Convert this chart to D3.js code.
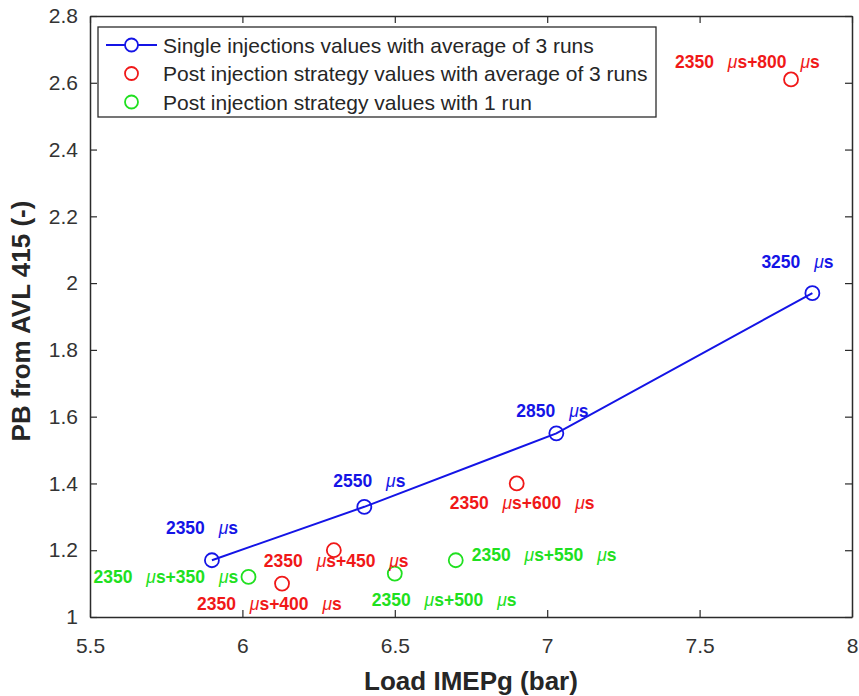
<!DOCTYPE html>
<html>
<head>
<meta charset="utf-8">
<script src="https://cdn.jsdelivr.net/npm/d3@7/dist/d3.min.js"></script>
<style>
  html, body { margin: 0; padding: 0; background: #fff; }
  svg { display: block; }
</style>
</head>
<body>
<svg id="chart" width="859" height="696"></svg>
<script>
// ---- data ----
const xTicks = [5.5, 6, 6.5, 7, 7.5, 8];
const yTicks = [1, 1.2, 1.4, 1.6, 1.8, 2, 2.2, 2.4, 2.6, 2.8];

// single injections, average of 3 runs
const singleX = [5.9, 6.4, 7.03, 7.87];
const singleY = [1.17, 1.33, 1.55, 1.97];
const singleLabels = ["2350 μs", "2550 μs", "2850 μs", "3250 μs"];

// post injection strategy, average of 3 runs
const post3X = [7.8, 6.9, 6.3, 6.13];
const post3Y = [2.61, 1.40, 1.20, 1.10];
const post3Labels = ["2350 μs+800 μs", "2350 μs+600 μs", "2350 μs+450 μs", "2350 μs+400 μs"];

// post injection strategy, 1 run
const post1X = [6.02, 6.5, 6.7];
const post1Y = [1.12, 1.13, 1.17];
const post1Labels = ["2350 μs+350 μs", "2350 μs+500 μs", "2350 μs+550 μs"];

const legendLabels = [
  "Single injections values with average of 3 runs",
  "Post injection strategy values with average of 3 runs",
  "Post injection strategy values with 1 run"
];

// ---- layout ----
// annotation offsets (px) from each marker to the label's left/middle point
const singleLabelOffset = [[-46, -32], [-31, -26], [-40, -22], [-51, -31]];
const post3LabelOffset = [[-116, -17], [-67, 20], [-70, 11], [-85, 20]];
const post1LabelOffset = [[-155, 0], [-23, 26], [16, -5]];

const W = 859, H = 696;
const margin = { left: 90, right: 7, top: 16, bottom: 79 };
const plotW = W - margin.left - margin.right;
const plotH = H - margin.top - margin.bottom;

const BLUE = "#1414e6", RED = "#f01818", GREEN = "#20e020";
const AXIS = "#2b2b2b";
const FONT = "'Liberation Sans', Arial, Helvetica, sans-serif";

const svg = d3.select("#chart");
const g = svg.append("g").attr("transform", `translate(${margin.left},${margin.top})`);

const x = d3.scaleLinear().domain([5.5, 8]).range([0, plotW]);
const y = d3.scaleLinear().domain([1, 2.8]).range([plotH, 0]);

const fmt = d => String(+d.toFixed(1));

// ---- axes (box with inward ticks) ----
function styleAxis(sel) {
  sel.selectAll("path.domain").attr("stroke", AXIS).attr("stroke-width", 1.5);
  sel.selectAll(".tick line").attr("stroke", AXIS).attr("stroke-width", 1.2);
  sel.selectAll("text").attr("fill", "#333").style("font-family", FONT).style("font-size", "21px");
}

g.append("g").attr("transform", `translate(0,${plotH})`)
  .call(d3.axisBottom(x).tickValues(xTicks).tickFormat(fmt).tickSizeInner(-7).tickSizeOuter(0).tickPadding(21))
  .call(styleAxis);
g.append("g")
  .call(d3.axisTop(x).tickValues(xTicks).tickFormat("").tickSizeInner(-7).tickSizeOuter(0))
  .call(styleAxis);
g.append("g")
  .call(d3.axisLeft(y).tickValues(yTicks).tickFormat(fmt).tickSizeInner(-7).tickSizeOuter(0).tickPadding(12))
  .call(styleAxis);
g.append("g").attr("transform", `translate(${plotW},0)`)
  .call(d3.axisRight(y).tickValues(yTicks).tickFormat("").tickSizeInner(-7).tickSizeOuter(0))
  .call(styleAxis);

// ---- axis titles ----
svg.append("text")
  .attr("x", 471).attr("y", 690)
  .attr("text-anchor", "middle")
  .style("font-family", FONT).style("font-size", "26px").style("font-weight", "bold")
  .attr("fill", "#262626")
  .text("Load IMEPg (bar)");

svg.append("text")
  .attr("transform", "translate(30,321) rotate(-90)")
  .attr("text-anchor", "middle")
  .style("font-family", FONT).style("font-size", "26px").style("font-weight", "bold")
  .attr("fill", "#262626")
  .text("PB from AVL 415 (-)");

// ---- series ----
const single = singleX.map((v, i) => ({ x: v, y: singleY[i], label: singleLabels[i], off: singleLabelOffset[i] }));
const post3 = post3X.map((v, i) => ({ x: v, y: post3Y[i], label: post3Labels[i], off: post3LabelOffset[i] }));
const post1 = post1X.map((v, i) => ({ x: v, y: post1Y[i], label: post1Labels[i], off: post1LabelOffset[i] }));

g.append("path")
  .datum(single)
  .attr("fill", "none")
  .attr("stroke", BLUE)
  .attr("stroke-width", 2)
  .attr("d", d3.line().x(d => x(d.x)).y(d => y(d.y)));

function drawMarkers(data, color) {
  g.append("g").selectAll("circle")
    .data(data).join("circle")
    .attr("cx", d => x(d.x)).attr("cy", d => y(d.y))
    .attr("r", 7)
    .attr("fill", "none")
    .attr("stroke", color)
    .attr("stroke-width", 1.8);
}

// label text with the micro sign set in italic, like TeX "\mu"
function drawLabels(data, color) {
  data.forEach(d => {
    const t = g.append("text")
      .attr("x", x(d.x) + d.off[0])
      .attr("y", y(d.y) + d.off[1])
      .attr("dominant-baseline", "central")
      .attr("fill", color)
      .style("font-family", FONT).style("font-size", "17.5px").style("font-weight", "bold");
    const parts = d.label.split("μ");
    parts.forEach((p, k) => {
      if (k > 0) {
        t.append("tspan").attr("dx", 9)
          .style("font-style", "italic").style("font-weight", "normal")
          .text("μ");
      }
      if (p) t.append("tspan").text(p);
    });
  });
}

drawMarkers(single, BLUE);
drawMarkers(post3, RED);
drawMarkers(post1, GREEN);
drawLabels(single, BLUE);
drawLabels(post3, RED);
drawLabels(post1, GREEN);

// ---- legend ----
const legend = svg.append("g");
legend.append("rect")
  .attr("x", 98).attr("y", 27).attr("width", 558).attr("height", 90)
  .attr("fill", "#fff").attr("stroke", AXIS).attr("stroke-width", 1.3);

const legendColors = [BLUE, RED, GREEN];
legendLabels.forEach((lab, i) => {
  const cy = 45 + i * 28.5;
  if (i === 0) {
    legend.append("line")
      .attr("x1", 106).attr("x2", 157).attr("y1", cy).attr("y2", cy)
      .attr("stroke", BLUE).attr("stroke-width", 2);
  }
  legend.append("circle")
    .attr("cx", 131.5).attr("cy", cy).attr("r", 6.5)
    .attr("fill", i === 0 ? "#fff" : "none")
    .attr("stroke", legendColors[i]).attr("stroke-width", 1.8);
  legend.append("text")
    .attr("x", 163).attr("y", cy)
    .attr("dominant-baseline", "central")
    .attr("fill", "#262626")
    .style("font-family", FONT).style("font-size", "21px")
    .text(lab);
});
</script>
</body>
</html>
